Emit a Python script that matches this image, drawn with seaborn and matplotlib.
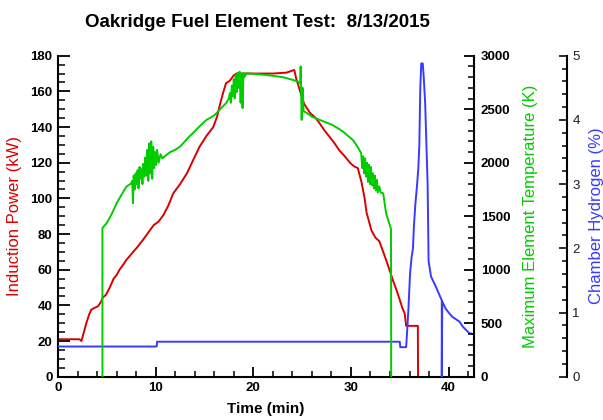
import matplotlib
matplotlib.use("Agg")
import matplotlib.pyplot as plt
from matplotlib.ticker import MultipleLocator
import pandas as pd
import seaborn as sns

# Style
sns.set_theme(style="ticks")
plt.rcParams['font.family'] = ['Liberation Sans', 'DejaVu Sans']

# Induction power (kW) vs time (min)
power_time = [0, 2.2, 2.4, 2.6, 2.9, 3.2, 3.4, 3.7, 4.1, 4.4, 4.6, 4.9, 5.3, 5.7, 6.0,
              6.3, 6.7, 7.0, 7.4, 7.7, 8.1, 8.7, 9.4, 9.8, 10.3, 10.8, 11.3, 11.8, 12.5,
              13.2, 13.8, 14.5, 15.2, 15.9, 16.3, 16.6, 16.9, 17.2, 17.6, 18.0, 18.3, 20.0,
              22.0, 23.4, 24.2, 24.4, 24.8, 25.2, 25.8, 26.4, 26.8, 27.3, 27.8, 28.3, 28.8,
              29.3, 29.9, 30.3, 30.7, 31.1, 31.4, 31.6, 32.1, 32.5, 32.9, 33.3, 33.6, 34.0,
              34.3, 34.7, 35.0, 35.3, 35.5, 35.65, 36.85, 36.87]
power_kw = [21, 21, 20, 24, 30, 35, 37.5, 38.5, 39.5, 42, 44.5, 45.8, 50, 55, 57,
            60, 63, 65.5, 68, 70, 72.5, 76.7, 82, 85, 87, 90.7, 96, 102.8, 108,
            114, 121, 129, 135, 140, 146, 153, 159, 164.5, 166, 169, 170, 170,
            170, 170.5, 172, 167, 160, 153, 148, 145, 142, 138, 134.6, 131, 127,
            124, 120, 118, 117, 108.6, 100, 92, 82, 78, 76, 70, 65.5, 59,
            54, 48, 43, 38, 35.5, 28.5, 28.5, 0]

# Maximum element temperature (K) vs time (min)
temp_time = [4.55, 4.55, 4.98, 5.5, 6.0, 6.5, 7.0, 7.5, 7.6, 7.68,
             7.75, 7.85, 7.95, 8.05, 8.15, 8.25, 8.35, 8.45, 8.55, 8.65,
             8.75, 8.85, 8.95, 9.05, 9.15, 9.25, 9.35, 9.45, 9.55, 9.65,
             9.75, 9.85, 9.95, 10.05, 10.15, 10.3, 10.5, 10.7, 11.1, 11.5,
             12.0, 12.5, 13.0, 13.5, 13.8, 14.5, 15.2, 15.6, 16.05, 16.6,
             17.2, 17.5, 17.6, 17.7, 17.8, 17.9, 18.0, 18.1, 18.2, 18.3,
             18.4, 18.5, 18.6, 18.7, 18.8, 18.9, 19.0, 19.1, 19.3, 21.3,
             23.0, 24.0, 24.6, 24.8, 24.85, 24.95, 25.05, 25.15, 25.4, 26.0,
             26.8, 27.5, 28.1, 28.7, 29.2, 29.7, 30.2, 30.6, 31.05, 31.15,
             31.25, 31.35, 31.45, 31.55, 31.65, 31.75, 31.85, 31.95, 32.05, 32.15,
             32.25, 32.35, 32.45, 32.55, 32.65, 32.75, 32.9, 33.05, 33.3, 33.6,
             34.1, 34.12]
temp_k = [0, 1390, 1434, 1520, 1620, 1700, 1776, 1807, 1830, 1620,
          1880, 1750, 1900, 1800, 1930, 1760, 1960, 1850, 1940, 1800,
          1990, 1870, 2050, 1880, 2120, 1830, 2180, 1900, 2200, 1850,
          2150, 1950, 2100, 1980, 2120, 2000, 2080, 2040, 2072, 2100,
          2120, 2150, 2200, 2250, 2275, 2340, 2400, 2420, 2446, 2500,
          2555, 2600, 2650, 2560, 2720, 2620, 2780, 2600, 2820, 2660,
          2840, 2700, 2850, 2560, 2830, 2510, 2840, 2800, 2836, 2820,
          2800, 2775, 2757, 2740, 2900, 2400, 2700, 2480, 2470, 2430,
          2400, 2375, 2352, 2320, 2290, 2250, 2212, 2160, 2088, 1950,
          2060, 1900, 2040, 1870, 2000, 1820, 1980, 1800, 1960, 1790,
          1900, 1760, 1880, 1740, 1840, 1720, 1780, 1720, 1714, 1527,
          1380, 0]

# Chamber hydrogen (%) vs time (min)
h2_time = [0, 10.1, 10.15, 35.0, 35.05, 35.65, 35.75, 35.9, 36.05, 36.2, 36.35, 36.45,
           36.6, 36.75, 36.9, 37.0, 37.1, 37.2, 37.35, 37.45, 37.6, 37.75, 37.85, 37.95,
           38.2, 38.7, 39.3, 39.3, 39.35, 39.7, 40.0, 40.4, 41.1, 41.45, 42.1, 42.6]
h2_pct = [0.47, 0.47, 0.545, 0.545, 0.46, 0.46, 0.7, 1.1, 1.6, 1.85, 2.0, 2.35,
          2.7, 2.95, 3.25, 3.6, 4.5, 4.88, 4.88, 4.67, 4.26, 3.5, 3.0, 1.8,
          1.56, 1.40, 1.19, 0, 1.17, 1.06, 1.0, 0.93, 0.86, 0.78, 0.68, 0.66]

power_df = pd.DataFrame({'time': power_time, 'value': power_kw})
temp_df = pd.DataFrame({'time': temp_time, 'value': temp_k})
h2_df = pd.DataFrame({'time': h2_time, 'value': h2_pct})

RED = '#d90000'
GREEN = '#00cc00'
BLUE = '#3a3aff'

fig = plt.figure(figsize=(6.03, 4.2), dpi=100)
ax = fig.add_axes([58 / 603, 1 - 376.7 / 420, 416 / 603, 321 / 420])
ax2 = ax.twinx()   # temperature
ax3 = ax.twinx()   # hydrogen

# green on top, then blue, red at the bottom
ax.set_zorder(1)
ax3.set_zorder(2)
ax2.set_zorder(3)

sns.lineplot(data=power_df, x='time', y='value', estimator=None, sort=False,
             ax=ax, color=RED, linewidth=1.4)
sns.lineplot(data=temp_df, x='time', y='value', estimator=None, sort=False,
             ax=ax2, color=GREEN, linewidth=1.4)
sns.lineplot(data=h2_df, x='time', y='value', estimator=None, sort=False,
             ax=ax3, color=BLUE, linewidth=1.4)

ax.set_xlim(0, 42.6)
ax.set_ylim(0, 180)
ax2.set_ylim(0, 3000)
ax3.set_ylim(0, 5)
for a in (ax, ax2, ax3):
    a.set_xlabel('')
    a.set_ylabel('')
    for s in a.spines.values():
        s.set_visible(False)
        s.set_linewidth(1.5)
        s.set_color('black')
ax.spines['left'].set_visible(True)
ax.spines['bottom'].set_visible(True)
ax2.spines['right'].set_visible(True)
ax3.spines['right'].set_visible(True)
ax3.spines['right'].set_position(('axes', (566.7 - 58) / 416))

# ticks
ax.set_xticks([0, 10, 20, 30, 40])
ax.set_yticks(range(0, 181, 20))
ax2.set_yticks(range(0, 3001, 500))
ax3.set_yticks(range(0, 6))
ax.xaxis.set_minor_locator(MultipleLocator(2))
ax.yaxis.set_minor_locator(MultipleLocator(5))
ax2.yaxis.set_minor_locator(MultipleLocator(100))
ax3.yaxis.set_minor_locator(MultipleLocator(0.2))

ax.tick_params(axis='y', which='major', direction='in', length=8.5, width=1.3,
               labelsize=9.5, pad=4, colors='black', left=True, right=False)
ax.tick_params(axis='y', which='minor', direction='in', length=5, width=1.1,
               color='black', left=True, right=False)
ax.tick_params(axis='x', which='major', direction='in', length=7, width=1.3,
               labelsize=9.5, pad=4, colors='black', bottom=True, top=False)
ax.tick_params(axis='x', which='minor', direction='in', length=4.5, width=1.1,
               color='black', bottom=True, top=False)
ax2.tick_params(axis='y', which='major', direction='in', length=7, width=1.3,
                labelsize=9.5, pad=5, colors='black', right=True, left=False)
ax2.tick_params(axis='y', which='minor', direction='in', length=4.5, width=1.1,
                color='black', right=True, left=False)
ax3.tick_params(axis='y', which='major', direction='in', length=6, width=1.3,
                labelsize=9.5, pad=4, colors='#1a1a2a', right=True, left=False)
ax3.tick_params(axis='y', which='minor', direction='in', length=3.5, width=1.1,
                color='black', right=True, left=False)

plt.setp(ax.get_xticklabels(), fontweight='bold')
plt.setp(ax.get_yticklabels(), fontweight='bold')
plt.setp(ax2.get_yticklabels(), fontweight='bold')

# titles and axis labels
fig.text(257 / 603, 1 - 27 / 420, 'Oakridge Fuel Element Test:  8/13/2015',
         ha='center', va='baseline', fontsize=13.5, fontweight='bold', color='black')
fig.text(266 / 603, 1 - 409 / 420, 'Time (min)', ha='center', va='center',
         fontsize=11, fontweight='bold', color='black')
fig.text(15 / 603, 1 - 216 / 420, 'Induction Power (kW)', ha='center', va='center',
         rotation=90, fontsize=12, color=RED)
fig.text(530 / 603, 1 - 216 / 420, 'Maximum Element Temperature (K)', ha='center',
         va='center', rotation=90, fontsize=12, color=GREEN)
fig.text(596 / 603, 1 - 216 / 420, 'Chamber Hydrogen (%)', ha='center', va='center',
         rotation=90, fontsize=12, color=BLUE)

fig.savefig('out.png', dpi=100)
